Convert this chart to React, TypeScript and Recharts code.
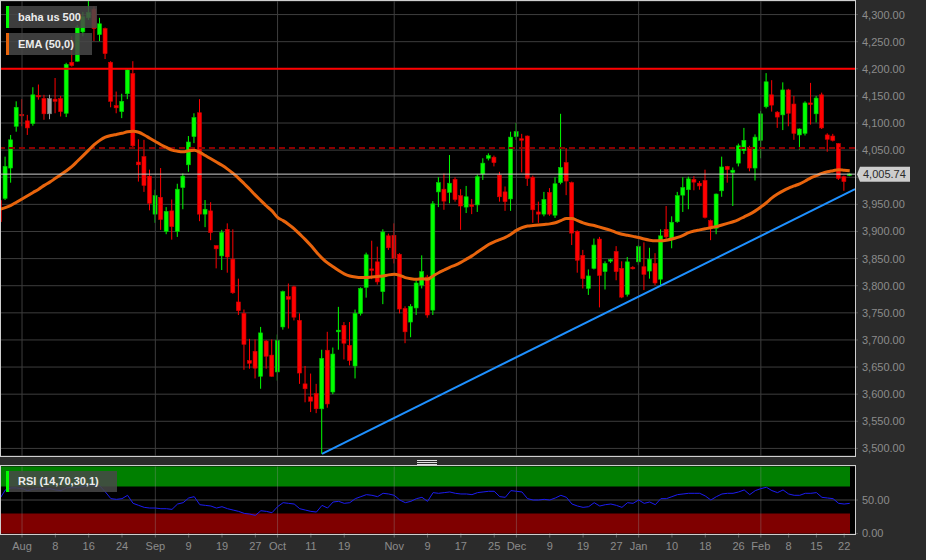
import React from 'react';
import {
  Bar, CartesianGrid, ComposedChart, Line, ReferenceArea, ReferenceLine, XAxis, YAxis,
} from 'recharts';

// daily candles, one per bar index
const opens = [
  3957, 3961, 4017, 4094, 4116, 4104, 4099, 4151, 4145, 4117,
  4144, 4145, 4118, 4212, 4214, 4268, 4294, 4310, 4263, 4274,
  4212, 4132, 4121, 4154, 4191, 4028, 4038, 4002, 3932, 3963,
  3900, 3938, 3900, 3981, 4023, 4075, 4119, 3932, 3938, 3874,
  3855, 3904, 3849, 3770, 3749, 3662, 3679, 3633, 3698, 3672,
  3641, 3724, 3780, 3798, 3736, 3619, 3595, 3601, 3573, 3681,
  3604, 3715, 3727, 3690, 3652, 3749, 3797, 3831, 3844, 3789,
  3892, 3893, 3858, 3758, 3733, 3759, 3801, 3816, 3755, 3973,
  3978, 3972, 3996, 3966, 3945, 3949, 3949, 4006, 4035, 4037,
  4004, 3973, 3960, 4075, 4071, 4076, 4000, 3936, 3932, 3972,
  3930, 3990, 4027, 3990, 3900, 3856, 3795, 3832, 3886, 3826,
  3846, 3863, 3832, 3784, 3834, 3844, 3835, 3827, 3841, 3812,
  3904, 3887, 3918, 3967, 3977, 3996, 3989, 3994, 3920, 3906,
  3975, 4020, 4009, 4026, 4049, 4055, 4017, 4068, 4130, 4152,
  4120, 4115, 4161, 4135, 4078, 4081, 4137, 4117, 4152, 4078,
  4076, 4062, 4001, 4003,
];
const highs = [
  3962, 4038, 4078, 4140, 4144, 4115, 4166, 4171, 4152, 4152,
  4183, 4150, 4211, 4260, 4281, 4305, 4325, 4315, 4294, 4276,
  4214, 4158, 4154, 4201, 4214, 4070, 4069, 4014, 3977, 4017,
  3945, 3959, 3988, 4007, 4076, 4118, 4144, 3958, 3954, 3874,
  3903, 3915, 3904, 3813, 3756, 3702, 3701, 3724, 3700, 3701,
  3710, 3791, 3804, 3800, 3749, 3652, 3638, 3619, 3682, 3715,
  3686, 3761, 3733, 3733, 3756, 3797, 3861, 3883, 3872, 3904,
  3896, 3915, 3860, 3762, 3766, 3810, 3856, 3820, 3956, 4000,
  4007, 4041, 4000, 3978, 3984, 3960, 4005, 4035, 4044, 4040,
  4010, 3983, 4084, 4100, 4080, 4077, 4003, 3955, 3973, 3980,
  4000, 4117, 4054, 3992, 3902, 3866, 3830, 3887, 3890, 3845,
  3850, 3873, 3845, 3853, 3836, 3875, 3880, 3870, 3860, 3904,
  3947, 3928, 3973, 4000, 4001, 4002, 3993, 4014, 3922, 3970,
  4038, 4021, 4018, 4062, 4091, 4058, 4079, 4122, 4192, 4179,
  4122, 4175, 4163, 4150, 4090, 4140, 4174, 4150, 4156, 4081,
  4080, 4063, 4003, 4007,
];
const lows = [
  3910, 3958, 3990, 4084, 4094, 4078, 4095, 4143, 4106, 4107,
  4118, 4112, 4111, 4204, 4213, 4260, 4290, 4251, 4251, 4218,
  4129, 4118, 4109, 4144, 4055, 3992, 3973, 3939, 3916, 3903,
  3895, 3885, 3890, 3941, 4010, 4063, 3919, 3908, 3884, 3832,
  3829, 3824, 3785, 3746, 3645, 3647, 3629, 3610, 3647, 3632,
  3625, 3719, 3721, 3736, 3619, 3585, 3567, 3565, 3490, 3575,
  3600, 3682, 3664, 3653, 3629, 3745, 3778, 3812, 3802, 3766,
  3866, 3841, 3749, 3694, 3705, 3746, 3795, 3741, 3746, 3945,
  3940, 3952, 3955, 3903, 3934, 3932, 3936, 3995, 4031, 4020,
  3955, 3938, 3938, 4069, 4009, 3984, 3916, 3916, 3928, 3929,
  3925, 3987, 3967, 3875, 3824, 3795, 3783, 3830, 3760, 3793,
  3842, 3810, 3777, 3780, 3830, 3838, 3792, 3813, 3801, 3801,
  3885, 3869, 3916, 3936, 3941, 3976, 3977, 3924, 3884, 3895,
  3964, 3990, 3947, 4020, 4043, 4011, 3994, 4035, 4127, 4121,
  4091, 4087, 4094, 4069, 4051, 4077, 4097, 4101, 4089, 4047,
  4066, 3995, 3975, 4002,
];
const closes = [
  3918, 4020, 4069, 4129, 4114, 4091, 4152, 4149, 4117, 4145,
  4140, 4121, 4208, 4206, 4277, 4296, 4304, 4274, 4283, 4228,
  4140, 4128, 4140, 4198, 4058, 4023, 3985, 3952, 3966, 3922,
  3937, 3909, 3978, 4002, 4065, 4110, 3932, 3941, 3898, 3868,
  3898, 3853, 3787, 3754, 3692, 3657, 3648, 3713, 3670, 3633,
  3699, 3789, 3775, 3742, 3639, 3610, 3587, 3573, 3666, 3582,
  3674, 3718, 3694, 3662, 3749, 3795, 3857, 3829, 3807, 3899,
  3870, 3850, 3757, 3715, 3762, 3805, 3826, 3746, 3951, 3990,
  3956, 3989, 3959, 3947, 3964, 3946, 4001, 4026, 4040, 4027,
  3964, 3955, 4074, 4084, 4069, 3998, 3940, 3932, 3959, 3932,
  3988, 4018, 3993, 3897, 3847, 3813, 3818, 3875, 3819, 3841,
  3848, 3826, 3779, 3844, 3832, 3872, 3821, 3849, 3805, 3892,
  3890, 3917, 3966, 3981, 3997, 3991, 3984, 3926, 3906, 3969,
  4019, 4014, 4013, 4058, 4068, 4017, 4074, 4117, 4176, 4133,
  4111, 4161, 4118, 4081, 4089, 4137, 4135, 4146, 4091, 4070,
  4068, 3998, 3992, 4006,
];

const ema50 = [
  3941, 3944, 3948, 3954, 3960, 3966, 3972, 3978, 3985, 3991,
  3998, 4005, 4012, 4020, 4030, 4040, 4050, 4060, 4068, 4074,
  4077, 4079, 4081, 4084, 4085, 4083, 4078, 4072, 4066, 4060,
  4055, 4050, 4048, 4047, 4049, 4050, 4046, 4040, 4034, 4028,
  4022, 4015, 4007, 3998, 3988, 3978, 3967, 3957, 3947, 3938,
  3926, 3920, 3913, 3905, 3895, 3885, 3874, 3862, 3851, 3842,
  3835, 3828, 3822, 3818, 3816, 3815, 3815, 3816, 3817, 3818,
  3820, 3821, 3819, 3815, 3813, 3812, 3813, 3812, 3818, 3824,
  3829, 3834, 3838, 3843, 3849, 3855, 3862, 3869, 3876, 3881,
  3885, 3889, 3895, 3902, 3907, 3910, 3911, 3912, 3913, 3914,
  3916, 3920, 3924, 3924, 3920, 3916, 3913, 3911, 3908, 3905,
  3902, 3898, 3895, 3893, 3891, 3889, 3886, 3884, 3883, 3883,
  3884, 3886, 3889, 3893, 3898, 3901, 3903, 3905, 3907, 3909,
  3912, 3915, 3918, 3922, 3927, 3932, 3938, 3945, 3953, 3962,
  3969, 3975, 3980, 3984, 3988, 3993, 3999, 4003, 4007, 4010,
  4012, 4014, 4013, 4012,
];

const rsi14 = [
  52, 65, 68, 68, 67, 64, 66, 67, 66, 67,
  65, 64, 68, 69, 69, 70, 72, 72, 71, 62,
  52, 51, 52, 57, 45, 42, 39, 38, 38, 37,
  37, 36, 44, 46, 53, 55, 43, 42, 41, 38,
  40, 37, 35, 33, 30, 29, 27, 34, 33, 31,
  40, 46, 45, 44, 37, 35, 33, 32, 42, 38,
  47, 48, 45, 46, 52, 55, 58, 57, 55, 60,
  59, 57, 50, 46, 48, 52, 54, 48, 61, 60,
  61, 62, 60, 59, 59, 58, 61, 62, 63, 63,
  55, 54, 64, 63, 62, 52, 50, 50, 51, 50,
  53, 57, 54, 44, 41, 39, 40, 46, 41, 43,
  44, 42, 39, 46, 45, 50, 45, 47, 43, 52,
  52, 55, 58, 59, 60, 60, 60, 56, 50, 55,
  59, 60, 60, 62, 65, 58, 64, 67, 69, 64,
  61, 65, 59, 57, 57, 60, 60, 61, 54, 53,
  52, 45, 44, 45,
];

const tickIndex = [4, 10, 16, 22, 28, 34, 40, 46, 50, 56, 62, 71, 77, 83, 89, 93, 99, 105, 111, 115, 121, 127, 133, 137, 142, 147, 152];
const tickLabels = ['Aug', '8', '16', '24', 'Sep', '9', '19', '27', 'Oct', '11', '19', 'Nov', '9', '17', '25', 'Dec', '9', '19', '27', 'Jan', '10', '18', '26', 'Feb', '8', '15', '22'];
const monthIndex = [4, 28, 50, 71, 93, 115, 137];
const priceTicks = [3500, 3550, 3600, 3650, 3700, 3750, 3800, 3850, 3900, 3950, 4000, 4050, 4100, 4150, 4200, 4250, 4300];

const lastPrice = 4005.74;
const resistance = 4200;
const dashedLevel = 4054;
const trendFrom = { i: 58, price: 3490 };
const trendTo = { i: 153.95, price: 3978 };
const greyBar = 9;

const X0 = 0.036;
const X1 = 153.95;

const data = opens.map((o, i) => ({
  i,
  open: o,
  high: highs[i],
  low: lows[i],
  close: closes[i],
  range: [lows[i], highs[i]],
  ema: ema50[i],
  rsi: rsi14[i],
}));

const fmt2 = (v: number) => v.toLocaleString('en-US', { minimumFractionDigits: 2, maximumFractionDigits: 2 });

const Candle = (props: any) => {
  const { x, y, width, height, payload } = props;
  const { open, close, high, low, i } = payload;
  const k = high === low ? 0 : height / (high - low);
  const up = close >= open;
  let fill = up ? '#00ff00' : '#ff0000';
  let edge = up ? '#00c800' : '#d00000';
  if (i === greyBar) { fill = '#a0a0a0'; edge = '#808080'; }
  const cx = x + width / 2;
  const top = y + (high - Math.max(open, close)) * k;
  const bot = y + (high - Math.min(open, close)) * k;
  return (
    <g>
      <line x1={cx} x2={cx} y1={y} y2={y + height} stroke={fill} strokeWidth={1} />
      <rect x={x + 0.5} y={top} width={width - 1} height={Math.max(bot - top, 1.5)} fill={fill} stroke={edge} strokeWidth={0.6} />
    </g>
  );
};

// the price tag sits on top of the nearest axis label, so that label is not drawn
const PriceTick = (props: any) => {
  const { x, y, payload } = props;
  if (Math.abs(payload.value - lastPrice) < 12) return null;
  return (
    <text x={x} y={y} dy="0.36em" textAnchor="start" fill="#8c8c8c" fontSize={11}>{fmt2(payload.value)}</text>
  );
};

const PriceTag = (props: any) => {
  const vb = props.viewBox;
  if (!vb) return null;
  const r = vb.x + vb.width;
  const cy = vb.y;
  return (
    <g>
      <path d={`M${r + 2},${cy} L${r + 5},${cy - 7.5} H${r + 55} V${cy + 7.5} H${r + 5} Z`} fill="#cdcdcd" />
      <text x={r + 8} y={cy} dy="0.36em" fontSize={11} fill="#2a2a2a">{fmt2(lastPrice)}</text>
    </g>
  );
};

const legendBox = (top: number, width: number, color: string): React.CSSProperties => ({
  position: 'absolute', left: 6, top, width, height: 22, boxSizing: 'border-box',
  background: 'rgba(72,72,72,0.85)', borderLeft: `3px solid ${color}`,
  color: '#ececec', fontWeight: 'bold', fontSize: 11, lineHeight: '22px', paddingLeft: 9,
});

const axisText = { fill: '#8c8c8c', fontSize: 11 };

export default function App() {
  return (
    <div style={{
      position: 'absolute', left: 0, top: 0, width: 926, height: 560, background: '#2b2b2b',
      fontFamily: '"Liberation Sans", Arial, sans-serif', overflow: 'hidden',
    }}>
      <div style={{ position: 'absolute', left: 0, top: 0 }}>
        <ComposedChart width={926} height={457} data={data} margin={{ top: 1, right: 0, bottom: 1, left: 0 }}>
          <CartesianGrid vertical={false} stroke="#3d3d3d" fill="#000" />
          <XAxis type="number" dataKey="i" domain={[X0, X1]} allowDataOverflow hide />
          <YAxis
            orientation="right"
            width={71}
            domain={[3486, 4325]}
            allowDataOverflow
            ticks={priceTicks}
            interval={0}
            tick={<PriceTick />}
            tickSize={3}
            tickMargin={4}
            axisLine={false}
            tickLine={{ stroke: '#555' }}
          />
          {monthIndex.map((m) => (
            <ReferenceLine key={m} x={m} stroke="#3d3d3d" />
          ))}
          <ReferenceLine y={dashedLevel} stroke="#8b0000" strokeWidth={2} strokeDasharray="6 4" />
          <Bar dataKey="range" shape={Candle} barSize={5} isAnimationActive={false} />
          <Line dataKey="ema" type="monotone" stroke="#e8640c" strokeWidth={3} dot={false} isAnimationActive={false} />
          <ReferenceLine y={resistance} stroke="#ff0000" strokeWidth={2} />
          <ReferenceLine y={lastPrice} stroke="#cfcfcf" strokeWidth={1} label={(p: any) => <PriceTag {...p} />} />
          <ReferenceLine
            segment={[{ x: trendFrom.i, y: trendFrom.price }, { x: trendTo.i, y: trendTo.price }]}
            stroke="#1e90ff"
            strokeWidth={2}
          />
        </ComposedChart>
      </div>

      <div style={{ position: 'absolute', left: 0, top: 458 }}>
        <ComposedChart width={926} height={102} data={data} margin={{ top: 8.5, right: 0, bottom: 0, left: 0 }}>
          <CartesianGrid vertical={false} horizontal={false} fill="#000" />
          <XAxis
            type="number"
            dataKey="i"
            domain={[X0, X1]}
            allowDataOverflow
            ticks={tickIndex}
            interval={0}
            tickFormatter={(v: number) => tickLabels[tickIndex.indexOf(v)] ?? ''}
            height={26.5}
            tickSize={4}
            tickMargin={5}
            axisLine={false}
            tickLine={{ stroke: '#666' }}
            tick={axisText}
          />
          <YAxis
            orientation="right"
            width={71}
            domain={[0, 100]}
            allowDataOverflow
            ticks={[0, 50]}
            interval={0}
            tickFormatter={(v: number) => v.toFixed(2)}
            tick={axisText}
            tickSize={3}
            tickMargin={4}
            axisLine={false}
            tickLine={{ stroke: '#555' }}
          />
          <ReferenceArea x1={X0} x2={153.05} y1={70} y2={100} fill="#007f00" fillOpacity={1} stroke="none" />
          <ReferenceArea x1={X0} x2={153.05} y1={0} y2={30} fill="#7f0000" fillOpacity={1} stroke="none" />
          <ReferenceLine y={50} stroke="#444" />
          {monthIndex.map((m) => (
            <ReferenceLine key={m} x={m} stroke="rgba(150,150,150,0.35)" />
          ))}
          <Line dataKey="rsi" type="linear" stroke="#1c1cf0" strokeWidth={1} dot={false} isAnimationActive={false} />
        </ComposedChart>
      </div>

      {/* panel frames */}
      <div style={{ position: 'absolute', left: 0, top: 0, width: 856, height: 457, boxSizing: 'border-box', border: '1px solid #cfcfcf', pointerEvents: 'none' }} />
      <div style={{ position: 'absolute', left: 0, top: 465, width: 856, height: 70, boxSizing: 'border-box', border: '1px solid #cfcfcf', pointerEvents: 'none' }} />

      {/* splitter handle */}
      <div style={{ position: 'absolute', left: 417, top: 460, width: 20, height: 1, background: '#e0e0e0' }} />
      <div style={{ position: 'absolute', left: 417, top: 462, width: 20, height: 1, background: '#e0e0e0' }} />
      <div style={{ position: 'absolute', left: 417, top: 464, width: 20, height: 1, background: '#e0e0e0' }} />

      {/* series captions */}
      <div style={legendBox(6, 91, '#00ff00')}>baha us 500</div>
      <div style={legendBox(33, 86, '#e8640c')}>EMA (50,0)</div>
      <div style={{ ...legendBox(471, 111, '#00ff00'), height: 21, lineHeight: '21px' }}>RSI (14,70,30,1)</div>
    </div>
  );
}
